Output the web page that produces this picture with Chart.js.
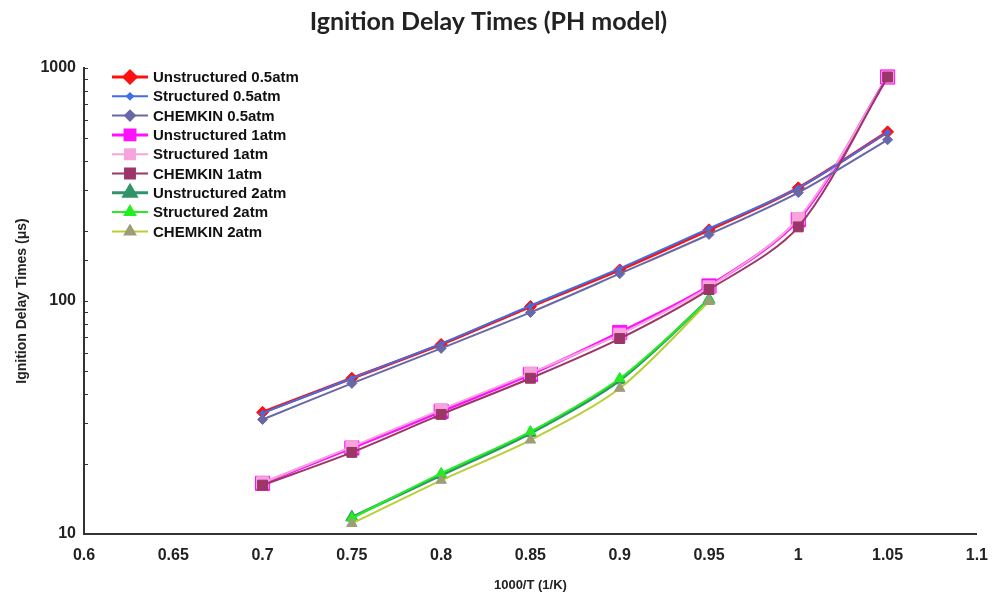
<!DOCTYPE html>
<html>
<head>
<meta charset="utf-8">
<script src="https://cdn.jsdelivr.net/npm/chart.js@4.4.1/dist/chart.umd.min.js"></script>
<style>
  body { margin: 0; background: #fff; }
  #wrap { width: 1000px; height: 598px; }
</style>
</head>
<body>
<div id="wrap"><canvas id="mainChart"></canvas></div>
<script>
// 1000/T values
const xLow = [0.7, 0.75, 0.8, 0.85, 0.9, 0.95, 1.0, 1.05];
const xHigh = [0.75, 0.8, 0.85, 0.9, 0.95];

// ignition delay (us)
const unstructured05 = [33.3, 46.6, 65.1, 94.7, 136, 202, 306, 532];
const structured05 = [33.0, 46.6, 65.6, 95.6, 138, 205, 306, 530];
const chemkin05 = [31.0, 44.3, 62.6, 89.3, 131, 193, 292, 492];

const unstructured1 = [16.5, 23.4, 33.6, 48.4, 73.3, 116, 223, 915];
const structured1 = [16.6, 23.7, 34.2, 49.0, 72.0, 115, 226, 915];
const chemkin1 = [16.2, 22.4, 32.6, 46.6, 69.0, 112, 208, 915];

const unstructured2 = [11.8, 17.9, 27.1, 45.7, 101.4];
const structured2 = [11.7, 18.2, 27.5, 46.5, 101];
const chemkin2 = [11.1, 17.0, 25.3, 42.2, 99.5];

const yLabels = [10, 100, 1000];

const fam = "'Liberation Sans', Arial, sans-serif";
const tickFont = { family: fam, weight: "bold", size: 16 };

const pts = (xs, ys) => xs.map((x, i) => ({ x, y: ys[i] }));

function series(label, xs, ys, color, pointColor, style, radius, width, order) {
  return {
    label,
    data: pts(xs, ys),
    borderColor: color,
    backgroundColor: pointColor,
    pointBackgroundColor: pointColor,
    pointBorderColor: pointColor,
    pointStyle: style,
    pointRadius: radius,
    pointBorderWidth: 1,
    borderWidth: width,
    tension: 0.3,
    order
  };
}

const datasets = [
  series("Unstructured 0.5atm", xLow, unstructured05, "#ff1010", "#ff1010", "rectRot", 6, 3, 3),
  series("Structured 0.5atm", xLow, structured05, "#3f6fe6", "#3f6fe6", "rectRot", 3, 2, 2),
  series("CHEMKIN 0.5atm", xLow, chemkin05, "#6868a8", "#6868a8", "rectRot", 5, 2, 1),
  series("Unstructured 1atm", xLow, unstructured1, "#ff10ff", "#ff10ff", "rect", 10, 3, 3),
  series("Structured 1atm", xLow, structured1, "#f7a3dc", "#f7a3dc", "rect", 8.5, 2, 2),
  series("CHEMKIN 1atm", xLow, chemkin1, "#9c3568", "#9c3568", "rect", 7, 2, 1),
  series("Unstructured 2atm", xHigh, unstructured2, "#2f9468", "#2f9468", "triangle", 7, 3, 3),
  series("Structured 2atm", xHigh, structured2, "#22ee22", "#22ee22", "triangle", 6, 2, 2),
  series("CHEMKIN 2atm", xHigh, chemkin2, "#b9cf35", "#9d9d78", "triangle", 6, 2, 1)
];

// small inward tick marks on the log axis
const innerTicks = {
  id: "innerTicks",
  afterDraw(chart) {
    const s = chart.scales.y;
    const ctx = chart.ctx;
    ctx.save();
    ctx.strokeStyle = "#333";
    ctx.lineWidth = 1;
    s.ticks.forEach(t => {
      const py = Math.round(s.getPixelForValue(t.value)) + 0.5;
      ctx.beginPath();
      ctx.moveTo(s.right, py);
      ctx.lineTo(s.right + 4, py);
      ctx.stroke();
    });
    ctx.restore();
  }
};

// legend drawn inside the plot, upper left
const insideLegend = {
  id: "insideLegend",
  afterDatasetsDraw(chart) {
    const ctx = chart.ctx;
    ctx.save();
    chart.data.datasets.forEach((ds, i) => {
      const y = 77 + i * 19.3;
      ctx.strokeStyle = ds.borderColor;
      ctx.lineWidth = ds.borderWidth;
      ctx.beginPath();
      ctx.moveTo(112, y);
      ctx.lineTo(148, y);
      ctx.stroke();
      ctx.fillStyle = ds.pointBackgroundColor;
      ctx.strokeStyle = ds.pointBorderColor;
      Chart.helpers.drawPoint(ctx, {
        pointStyle: ds.pointStyle,
        radius: Math.min(ds.pointRadius, 7),
        rotation: 0,
        borderWidth: 1
      }, 130, y);
      ctx.fillStyle = "#111";
      ctx.font = "bold 15px " + fam;
      ctx.textBaseline = "middle";
      ctx.textAlign = "left";
      ctx.fillText(ds.label, 153, y + 1);
    });
    ctx.restore();
  }
};

new Chart(document.getElementById("mainChart"), {
  type: "line",
  data: { datasets },
  options: {
    responsive: true,
    maintainAspectRatio: false,
    animation: false,
    layout: { padding: { left: 0, right: 23, top: 0, bottom: 0 } },
    scales: {
      x: {
        type: "linear",
        min: 0.6,
        max: 1.1,
        ticks: {
          stepSize: 0.05,
          font: tickFont,
          color: "#222",
          padding: 12,
          callback: v => String(+v.toFixed(2))
        },
        grid: { display: false, drawTicks: false },
        border: { color: "#333", width: 2 },
        title: {
          display: true,
          text: "1000/T (1/K)",
          font: { family: fam, weight: "bold", size: 13 },
          color: "#222",
          padding: { top: 0, bottom: 5 }
        },
        afterFit(s) { s.height = 64; }
      },
      y: {
        type: "logarithmic",
        min: 10,
        max: 1000,
        ticks: {
          autoSkip: false,
          font: tickFont,
          color: "#222",
          padding: 8,
          callback: v => (yLabels.includes(v) ? String(v) : "")
        },
        grid: { display: false, drawTicks: false },
        border: { color: "#333", width: 2 },
        title: {
          display: true,
          text: "Ignition Delay Times (μs)",
          font: { family: fam, weight: "bold", size: 14 },
          color: "#222",
          padding: { top: 14, bottom: 0 }
        },
        afterFit(s) { s.width = 84; }
      }
    },
    plugins: {
      legend: { display: false },
      tooltip: { enabled: false },
      title: {
        display: true,
        text: "Ignition Delay Times (PH model)",
        font: { family: "Lato, 'Open Sans', sans-serif", size: 25, weight: "bold" },
        color: "#222",
        padding: { top: 7, bottom: 31 }
      }
    }
  },
  plugins: [innerTicks, insideLegend]
});
</script>
</body>
</html>
